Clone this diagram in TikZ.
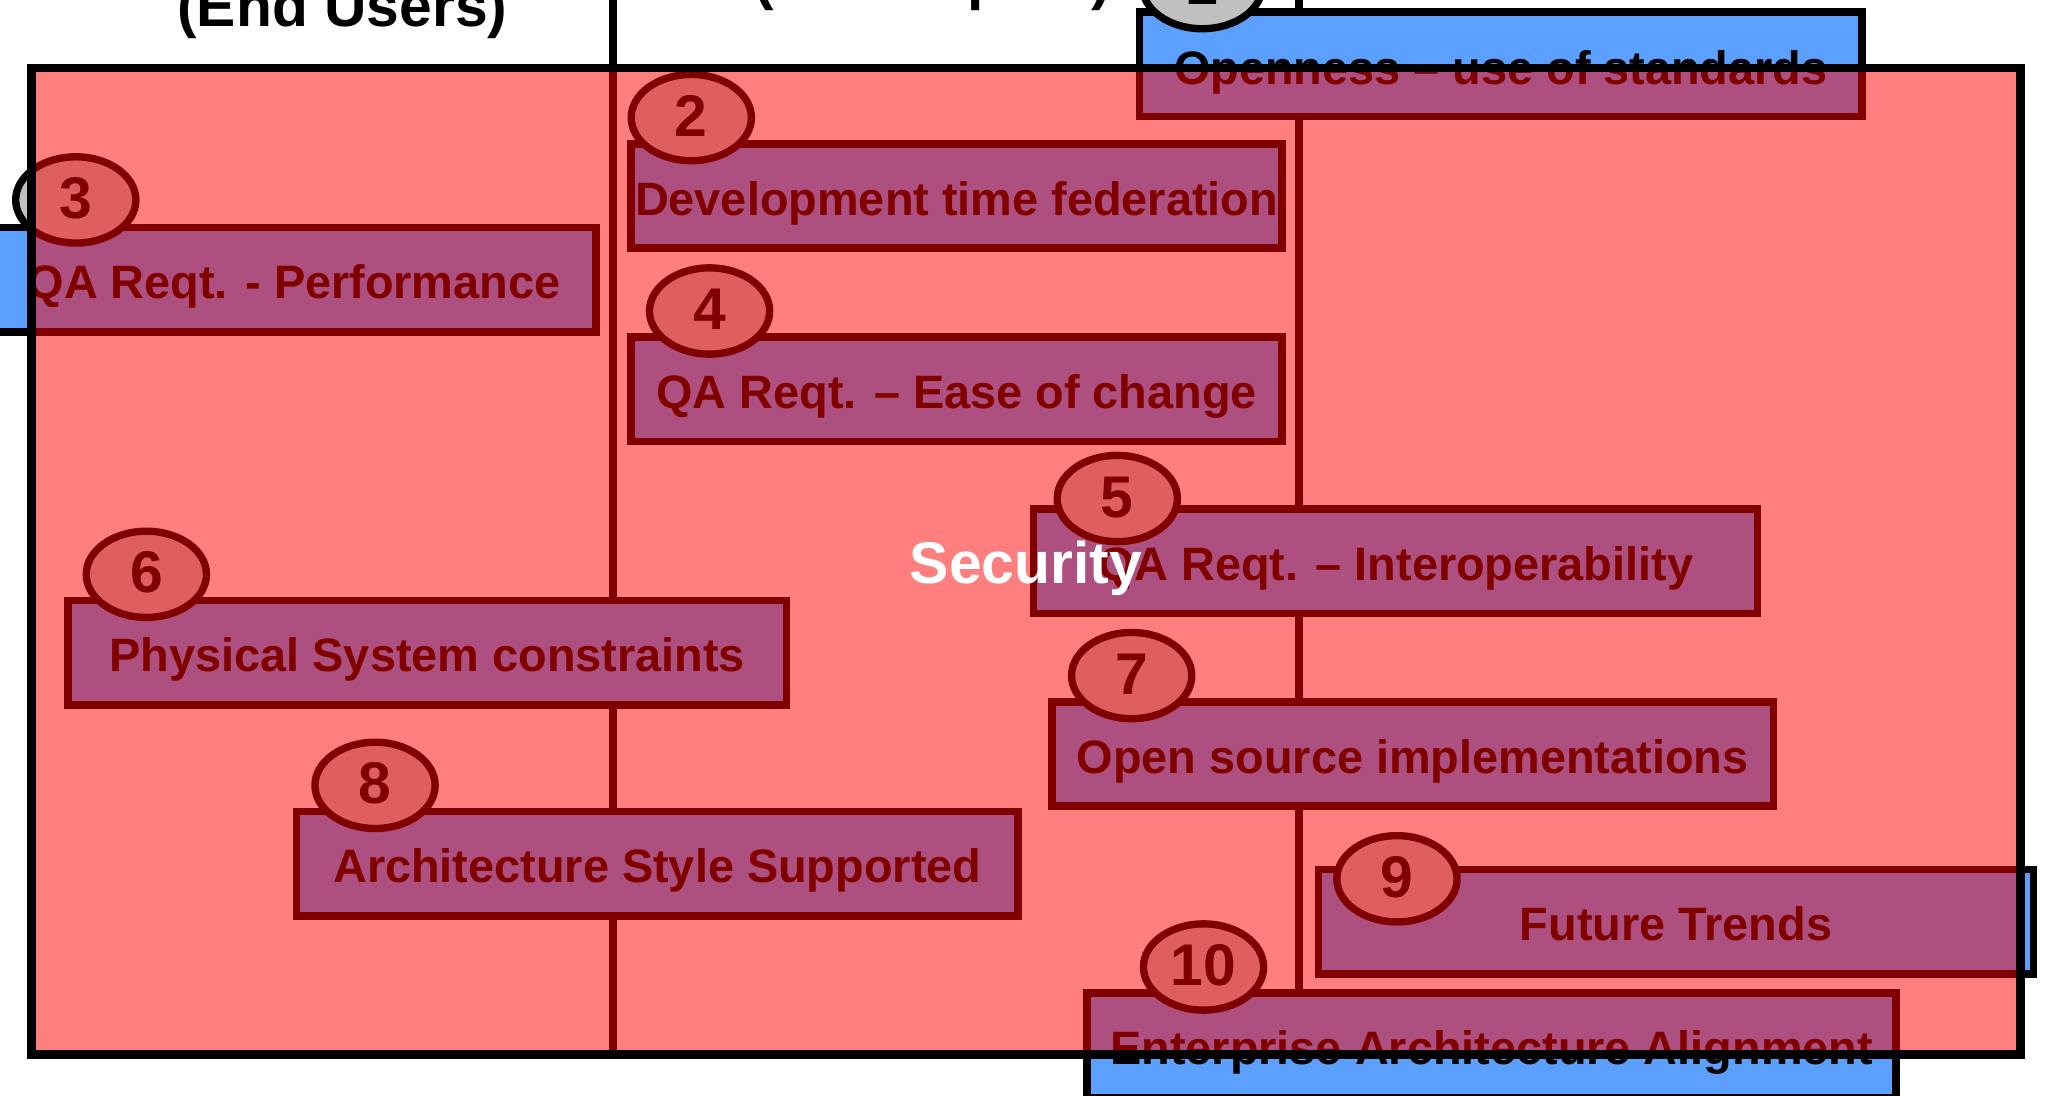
\documentclass[tikz,border=0pt]{standalone}
\usepackage{fontspec}
\setmainfont{Liberation Sans}
\usetikzlibrary{positioning,calc,shapes.geometric}

\definecolor{slideblue}{RGB}{91,160,255}
\definecolor{badgegrey}{RGB}{192,192,192}

\begin{document}
\begin{tikzpicture}[
  y=-1cm,
  rule/.style={line width=1.6pt, black},
  head/.style={anchor=base, font=\bfseries\fontsize{12.8}{14}\selectfont},
  item/.style={draw, line width=1.65pt, fill=slideblue, minimum width=5.52cm, minimum height=0.8cm,
    inner sep=0pt, outer sep=0pt, font=\bfseries\fontsize{10.2}{12}\selectfont, text height=0.83em, text depth=0pt},
  badge/.style={draw, ellipse, line width=1.6pt, fill=badgegrey, minimum width=0.92cm, minimum height=0.66cm,
    inner sep=0pt, outer sep=0pt, font=\bfseries\fontsize{12.8}{14}\selectfont, text height=0.81em, text depth=0pt},
  veil/.style={draw=black, line width=1.9pt, fill=red, fill opacity=0.5, inner sep=0pt},
]
\useasboundingbox (0,0) rectangle (15.68,8.38);

% column headings
\node[head] (users) at (2.62,0.20) {(End Users)};
\node[head] (devs) at (7.14,-0.01) {(Developers)};

% column rules
\coordinate (r1top) at (4.69,-0.3);
\coordinate (r1bot) at (4.69,8.07);
\coordinate (r2top) at (9.94,-0.3);
\coordinate (r2bot) at (9.94,8.07);
\draw[rule] (r1top) -- (r1bot);
\draw[rule] (r2top) -- (r2bot);

% issue boxes
\node[item, minimum width=5.53cm, text height=0.9em] (b1) at (11.485,0.49) {Openness – use of standards};
\node[item, minimum width=4.98cm] (b2) at (7.32,1.50) {Development time federation};
\node[item, minimum width=4.62cm] (b3) at (2.25,2.14) {QA Reqt. - Performance};
\node[item, minimum width=4.98cm] (b4) at (7.32,2.98) {QA Reqt. – Ease of change};
\node[item, minimum width=5.54cm] (b5) at (10.68,4.295) {QA Reqt. – Interoperability};
\node[item, minimum width=5.50cm] (b6) at (3.27,4.995) {Physical System constraints};
\node[item] (b7) at (10.81,5.77) {Open source implementations};
\node[item] (b8) at (5.03,6.61) {Architecture Style Supported};
\node[item, minimum width=5.47cm] (b9) at (12.825,7.055) {Future Trends};
\node[item, minimum width=6.19cm] (b10) at (11.415,8.00) {Enterprise Architecture Alignment};

% numbers
\node[badge] (n1) at ($(b1.north west)+(0.48,-0.20)$) {1};
\node[badge] (n2) at ($(b2.north west)+(0.46,-0.20)$) {2};
\node[badge] (n3) at ($(b3.north west)+(0.64,-0.21)$) {3};
\node[badge] (n4) at ($(b4.north west)+(0.60,-0.20)$) {4};
\node[badge] (n5) at ($(b5.north west)+(0.64,-0.08)$) {5};
\node[badge] (n6) at ($(b6.north west)+(0.60,-0.20)$) {6};
\node[badge] (n7) at ($(b7.north west)+(0.61,-0.20)$) {7};
\node[badge] (n8) at ($(b8.north west)+(0.60,-0.20)$) {8};
\node[badge] (n9) at ($(b9.north west)+(0.60,0.07)$) {9};
\node[badge] (n10) at ($(b10.north west)+(0.89,-0.20)$) {10};

% security layer over everything
\node[veil, minimum width=15.22cm, minimum height=7.55cm] (sec) at (7.85,4.295) {};
\node[text=white, font=\bfseries\fontsize{12.8}{14}\selectfont, text height=0.72em, text depth=0pt,
  inner sep=0pt] (seclabel) at ($(sec.center)+(0,0.045)$) {Security};

\end{tikzpicture}
\end{document}
